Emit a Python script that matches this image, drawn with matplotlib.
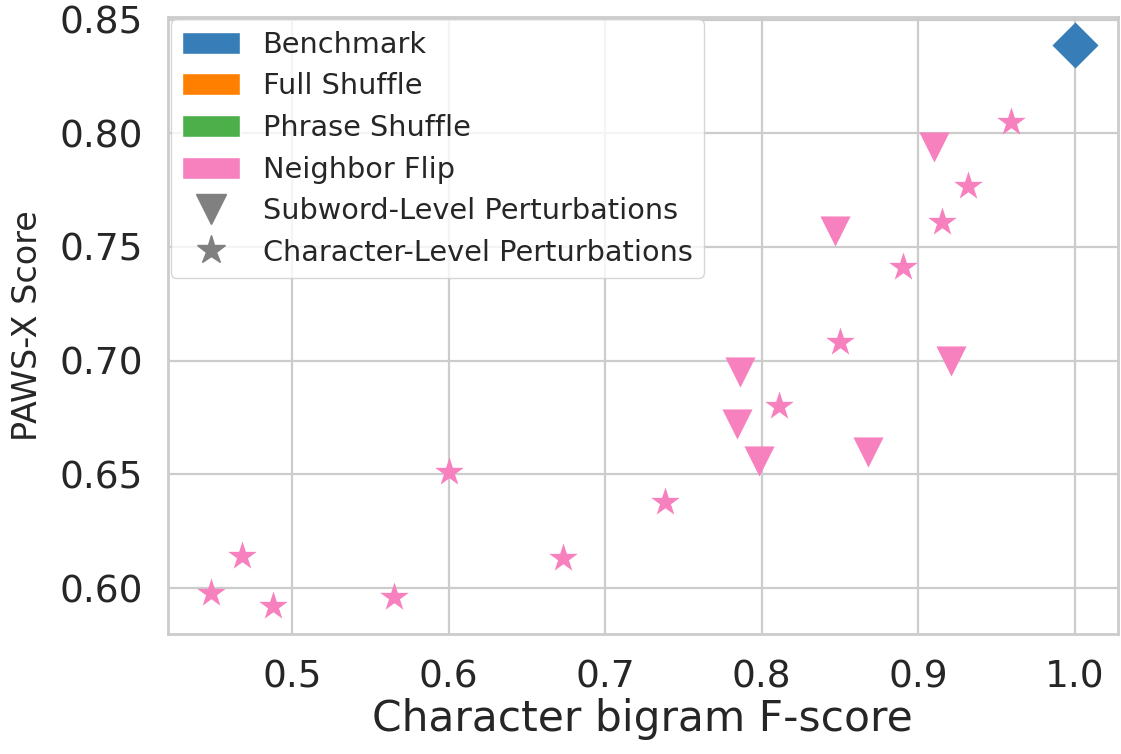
import numpy as np
import matplotlib
matplotlib.use('Agg')
import matplotlib.pyplot as plt
import seaborn as sns
from matplotlib.patches import Patch
from matplotlib.lines import Line2D

# values
bench_x = [1.0]
bench_y = [0.839]

# neighbor flip, subword-level (triangles)
sub_x = [0.910, 0.847, 0.921, 0.786, 0.784, 0.798, 0.868]
sub_y = [0.794, 0.757, 0.700, 0.695, 0.672, 0.656, 0.660]

# neighbor flip, character-level (stars)
char_x = [0.448, 0.468, 0.488, 0.565, 0.600, 0.673, 0.738,
          0.959, 0.932, 0.915, 0.890, 0.850, 0.811]
char_y = [0.598, 0.614, 0.592, 0.596, 0.651, 0.613, 0.638,
          0.805, 0.777, 0.761, 0.741, 0.708, 0.680]

legend_labels = ["Benchmark", "Full Shuffle", "Phrase Shuffle", "Neighbor Flip"]
colors = ["#377eb8", "#ff7f00", "#4daf4a", "#f781bf"]

sns.set_style("whitegrid")
plt.rcParams['font.family'] = ['DejaVu Sans']
plt.rcParams['axes.edgecolor'] = '.8'
plt.rcParams['axes.linewidth'] = 2.0
plt.rcParams['grid.linewidth'] = 1.6

fig = plt.figure(figsize=(11.21, 7.54), dpi=100)
ax = fig.add_axes([0.1496, 0.1588, 0.8477, 0.8192])

msize = 470
ax.scatter(sub_x, sub_y, marker='v', s=msize, color=colors[3], linewidths=0, zorder=3)
ax.scatter(char_x, char_y, marker='*', s=msize, color=colors[3], linewidths=0, zorder=3)
ax.scatter(bench_x, bench_y, marker='D', s=550, color=colors[0], linewidths=0, zorder=3)

ax.set_xticks([0.5, 0.6, 0.7, 0.8, 0.9, 1.0])
ax.set_yticks([0.60, 0.65, 0.70, 0.75, 0.80, 0.85])
ax.set_yticklabels(["%.2f" % v for v in [0.60, 0.65, 0.70, 0.75, 0.80, 0.85]])
ax.tick_params(axis='both', labelsize=27, colors='.15', pad=18, length=0)

ax.set_xlabel("Character bigram F-score", fontsize=30.5, color='.15', labelpad=2)
ax.set_ylabel("PAWS-X Score", fontsize=24, color='.15', labelpad=11)

handles = [Patch(facecolor=c, label=l) for c, l in zip(colors, legend_labels)]
handles.append(Line2D([], [], marker='v', color='gray', linestyle='', markersize=21.5,
                      label="Subword-Level Perturbations"))
handles.append(Line2D([], [], marker='*', color='gray', linestyle='', markersize=21.5,
                      label="Character-Level Perturbations"))
leg = ax.legend(handles=handles, loc='upper left', fontsize=20.7, borderaxespad=0.1,
                labelspacing=0.47, handleheight=0.8, borderpad=0.4, frameon=True)
for t in leg.get_texts():
    t.set_color('.15')

fig.savefig("out.png", dpi=100)
